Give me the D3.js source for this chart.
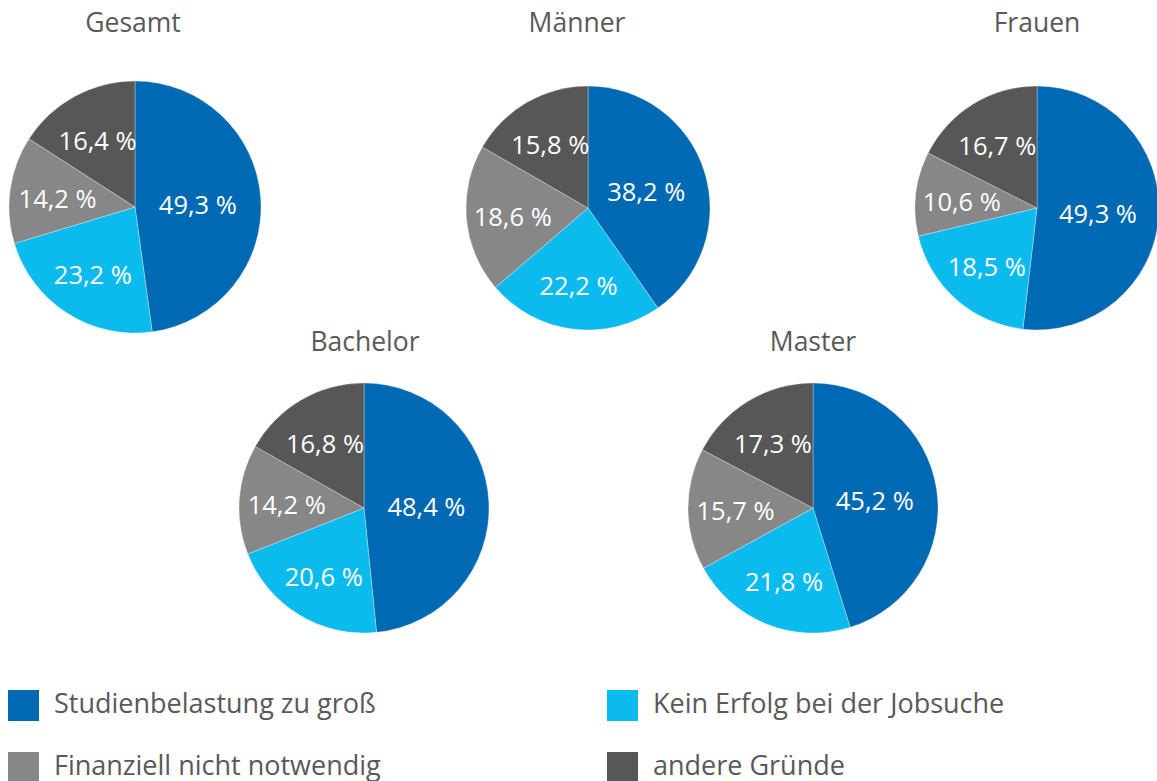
<!DOCTYPE html>
<html>
<head>
<meta charset="utf-8">
<script src="https://cdn.jsdelivr.net/npm/d3@7"></script>
<style>
  body { margin: 0; background: #fff; }
  text { font-family: "Open Sans", sans-serif; }
</style>
</head>
<body>
<div id="chart"></div>
<script>
// categories (legend order = slice order, clockwise from 12 o'clock)
var categories = ["Studienbelastung zu groß", "Kein Erfolg bei der Jobsuche", "Finanziell nicht notwendig", "andere Gründe"];
var groups = ["Gesamt", "Männer", "Frauen", "Bachelor", "Master"];

// values per group, in category order
var gesamt   = [49.3, 23.2, 14.2, 16.4];
var maenner  = [38.2, 22.2, 18.6, 15.8];
var frauen   = [49.3, 18.5, 10.6, 16.7];
var bachelor = [48.4, 20.6, 14.2, 16.8];
var master   = [45.2, 21.8, 15.7, 17.3];
var values = [gesamt, maenner, frauen, bachelor, master];

var colors = ["#0069b4", "#0cbbee", "#878787", "#575757"];

// where each pie sits on the page
var layout = [
  {cx: 135, cy: 207, r: 126, tx: 133, ty: 32},
  {cx: 588, cy: 208, r: 122, tx: 577, ty: 32},
  {cx: 1037, cy: 208, r: 122, tx: 1037, ty: 32},
  {cx: 364, cy: 508, r: 125, tx: 365, ty: 351},
  {cx: 813, cy: 508, r: 125, tx: 813, ty: 351}
];

var width = 1157, height = 781;

var svg = d3.select("#chart").append("svg")
    .attr("width", width)
    .attr("height", height);

var color = d3.scaleOrdinal().domain(d3.range(categories.length)).range(colors);

var pie = d3.pie()
    .value(function(d) { return d.v; })
    .sort(null);

var fmt = function(v) { return d3.format(".1f")(v).replace(".", ",") + " %"; };

groups.forEach(function(name, gi) {
  var L = layout[gi];
  var data = values[gi].map(function(v, i) { return {v: v, i: i}; });

  var g = svg.append("g")
      .attr("transform", "translate(" + L.cx + "," + L.cy + ")");

  var arc = d3.arc().innerRadius(0).outerRadius(L.r);

  var arcs = pie(data);

  g.selectAll("path")
    .data(arcs)
    .enter().append("path")
      .attr("d", arc)
      .attr("fill", function(d) { return color(d.data.i); })
      .attr("stroke", "#ffffff")
      .attr("stroke-width", 0.6)
      .attr("stroke-opacity", 0.5);

  // labels, big slices sit closer to the centre
  g.selectAll("text.lbl")
    .data(arcs)
    .enter().append("text")
      .attr("class", "lbl")
      .attr("transform", function(d) {
        var span = d.endAngle - d.startAngle;
        var k = span > 2.3 ? 0.5 : (span > 1.9 ? 0.53 : 0.62);
        var a = (d.startAngle + d.endAngle) / 2;
        return "translate(" + (Math.sin(a) * L.r * k) + "," + (-Math.cos(a) * L.r * k) + ")";
      })
      .attr("text-anchor", "middle")
      .attr("dy", "0.45em")
      .style("font-size", "25.5px")
      .style("fill", "#ffffff")
      .text(function(d) { return fmt(d.data.v); });

  // title
  svg.append("text")
      .attr("x", L.tx)
      .attr("y", L.ty)
      .attr("text-anchor", "middle")
      .style("font-size", "26.5px")
      .style("fill", "#595959")
      .text(name);
});

// legend, two columns
var legend = svg.append("g").attr("class", "legend");
var legX = d3.scaleOrdinal().domain([0, 1]).range([8, 607]);
var legY = d3.scaleOrdinal().domain([0, 1]).range([690, 752]);

var item = legend.selectAll("g")
  .data(categories)
  .enter().append("g")
    .attr("transform", function(d, i) {
      return "translate(" + legX(i % 2) + "," + legY(Math.floor(i / 2)) + ")";
    });

item.append("rect")
    .attr("width", 31)
    .attr("height", 31)
    .attr("fill", function(d, i) { return color(i); });

item.append("text")
    .attr("x", 46)
    .attr("y", 23)
    .style("font-size", "27px")
    .style("fill", "#595959")
    .text(function(d) { return d; });
</script>
</body>
</html>
